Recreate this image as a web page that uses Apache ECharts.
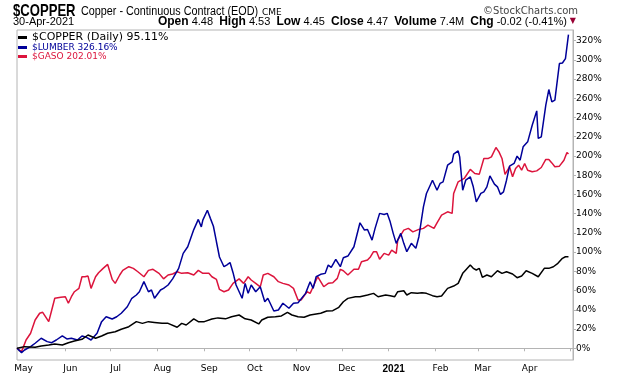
<!DOCTYPE html>
<html>
<head>
<meta charset="utf-8">
<script src="https://cdn.jsdelivr.net/npm/echarts@6/dist/echarts.min.js"></script>
<style>
  html, body { margin: 0; padding: 0; background: #fff; }
  #chart { width: 620px; height: 376px; }
</style>
</head>
<body>
<div id="chart"></div>
<script>
// day offsets from 30-Apr-2020, % change since start
const startDate = new Date(2020, 3, 30).getTime();
const DAY = 86400000;

const copper = [[0,0],[5,1.7],[12,1],[16,2.4],[21,3.4],[25,4.5],[30,3.4],[34,5.8],[38,7.6],[43,9.3],[47,13.8],[52,10.4],[56,12.8],[60,15.6],[65,17.2],[69,19.8],[74,22.4],[79,27.7],[83,25.9],[87,27.7],[91,26.9],[96,25.9],[100,25.9],[106,21.8],[109,25.9],[112,24.2],[117,30.6],[120,27.7],[124,27.7],[129,30.4],[133,31.6],[138,30.6],[142,32.8],[147,34.6],[151,30.6],[155,29.4],[160,25.3],[162,29.4],[166,32.2],[171,32.8],[175,33.6],[179,37.4],[182,34.6],[186,32.8],[190,32.2],[194,34.6],[201,36.4],[205,38.8],[209,39.1],[213,42.6],[216,48.4],[219,51.9],[224,53.6],[227,53.6],[232,55.4],[236,57.1],[239,53.6],[244,55.4],[247,54.7],[250,53.6],[252,58.8],[256,59.8],[258,55.4],[261,57.8],[265,57.1],[268,57.8],[271,57.1],[275,54.7],[278,53.6],[281,54.3],[285,62.3],[289,64.7],[292,67.5],[295,77.9],[297,81.4],[300,86.5],[302,83.1],[304,81.4],[306,83.1],[308,73.8],[311,76.2],[314,74.4],[318,80.6],[321,77.9],[324,79.6],[328,77.2],[331,73.4],[334,75.1],[337,80.6],[341,77.9],[345,74.4],[349,83.1],[352,83.1],[355,84.8],[358,88.3],[361,93.5],[363,95.2],[365,95.11]];

const lumber = [[0,0],[3,-4.5],[5,-1.8],[9,1.7],[12,5.2],[16,10.4],[20,6.9],[23,5.8],[26,8.6],[30,12.8],[33,9.7],[36,10.4],[40,8.6],[43,12.8],[46,11.4],[49,8.6],[53,15.6],[56,27.7],[59,32.8],[63,30.4],[66,32.8],[69,36.4],[73,43.2],[76,52],[79,55.4],[81,58.8],[84,69.3],[87,58.8],[89,60.6],[91,52],[95,60.6],[97,62.3],[100,65.8],[103,72.2],[107,83.1],[110,98.7],[113,105.6],[117,123.4],[120,134],[122,126.2],[123,133.3],[126,143.6],[128,135.1],[130,126.9],[132,110.8],[134,94.9],[137,84.8],[139,86.8],[141,89.2],[143,78.6],[145,65.8],[149,52],[151,67.5],[153,57.1],[155,65.8],[158,58.8],[161,63.9],[164,48.4],[166,52],[170,38.8],[173,39.8],[176,46.8],[180,41.6],[183,46.8],[186,47.4],[191,57.1],[194,69.2],[196,62.3],[198,74.4],[201,76.9],[204,77.9],[206,86.5],[208,84.2],[211,92.5],[214,84.8],[216,94.1],[219,95.9],[223,105.6],[227,130.5],[230,122.9],[232,123.6],[235,112.5],[237,124.7],[240,140.3],[243,139.2],[245,140.3],[247,131.5],[249,119.5],[251,109.1],[254,119.5],[256,109.1],[258,100.4],[261,109.1],[264,103.9],[266,116],[269,147.1],[271,161],[275,174.8],[278,164.4],[280,171.4],[282,173.1],[285,190.4],[288,193.9],[289,201.9],[292,205.3],[293,199.1],[295,164.4],[297,174.8],[300,178.3],[302,167.9],[304,152.3],[307,161],[309,162.7],[311,167.9],[313,179.3],[316,170.7],[318,167.9],[320,160],[322,162.7],[324,174.8],[326,189.4],[329,192.2],[331,199.8],[333,195.6],[335,209.5],[338,214.7],[341,232],[344,246.9],[345,218.2],[347,219.9],[350,252.8],[352,269.1],[354,256.2],[356,258],[359,296.1],[361,296.7],[363,301.3],[365,326.16]];

const gaso = [[0,0],[3,-3.5],[6,8.6],[9,15.6],[12,29.4],[13,27.7],[15,36.4],[17,37.4],[21,27.7],[23,39.8],[25,52],[29,53],[32,53.6],[34,46.8],[36,53.6],[38,58.8],[41,62.3],[43,74.4],[45,74.4],[47,75.1],[49,62.3],[52,74.4],[54,78.6],[57,83.1],[60,87.2],[63,71.7],[65,67.5],[68,76.2],[70,81],[74,84.8],[77,83.1],[80,79.6],[84,74.4],[87,81],[90,82.1],[94,77.9],[97,72.2],[100,76.2],[103,77.2],[106,79.6],[109,77.9],[113,78.6],[117,76.2],[120,81],[123,77.9],[127,77.9],[129,74.4],[132,71.6],[134,61.2],[137,58.8],[140,60.6],[143,67.5],[147,72.2],[150,67.5],[153,74.4],[155,71],[158,67.5],[161,63.9],[163,76.2],[166,77.9],[170,74.4],[173,69.3],[176,67.5],[180,65.8],[183,62.3],[186,50.2],[188,50.2],[192,58.8],[194,57.1],[196,64],[199,74.4],[201,69.2],[203,64],[206,67.5],[209,68.2],[212,72.7],[214,82.1],[216,80.6],[219,76.2],[223,82.1],[226,82.1],[228,90],[232,91.7],[234,95.2],[236,100.4],[238,100.4],[240,92.5],[243,98.7],[246,96.9],[248,102.1],[251,98.7],[252,112.5],[256,122.9],[259,124.7],[262,121.1],[266,123.6],[269,124.7],[272,128.1],[276,124.7],[278,130.5],[281,138.4],[285,141.9],[288,140.3],[289,161],[292,173.1],[296,176.6],[300,186],[303,181.8],[306,181.1],[309,197.4],[312,197.4],[314,199.1],[317,208.8],[319,204.3],[321,197.4],[323,180.8],[324,181.8],[326,188.7],[328,178.3],[330,187],[332,190.4],[334,185.2],[336,192.2],[338,185.2],[341,183.5],[344,184.5],[347,188],[350,196.4],[352,196.4],[354,192.8],[356,188.7],[359,189.4],[362,195.6],[364,203.6],[365,202.01]];

const yTicks = [0, 20, 40, 60, 80, 100, 120, 140, 160, 180, 200, 220, 240, 260, 280, 300, 320];
const monthNames = ['Jan','Feb','Mar','Apr','May','Jun','Jul','Aug','Sep','Oct','Nov','Dec'];

const names = ['$COPPER (Daily)', '$LUMBER', '$GASO'];
const colors = ['#000000', '#000099', '#dc143c'];
const lastVal = {};
[copper, lumber, gaso].forEach((s, i) => { lastVal[names[i]] = s[s.length - 1][1]; });

const toSeries = s => s.map(p => [startDate + p[0] * DAY, p[1]]);

const endDate = startDate + 368 * DAY;
const axisGray = '#b4b4b4';
const axisFont = 'DejaVu Sans';

let myChart = echarts.init(document.getElementById('chart'));
myChart.setOption({
  animation: false,
  grid: {
    left: 17, right: 47, top: 30, bottom: 16,
    show: true, borderColor: axisGray, borderWidth: 1
  },
  legend: {
    orient: 'vertical',
    left: 18, top: 32,
    padding: 0,
    itemGap: 0,
    itemWidth: 9, itemHeight: 3,
    icon: 'rect',
    selectedMode: false,
    formatter: name => name + ' ' + lastVal[name].toFixed(2) + '%',
    data: [
      { name: names[0], textStyle: { color: colors[0], fontSize: 11, lineHeight: 11, fontFamily: axisFont } },
      { name: names[1], textStyle: { color: colors[1], fontSize: 9, lineHeight: 9, fontFamily: axisFont } },
      { name: names[2], textStyle: { color: colors[2], fontSize: 9, lineHeight: 9, fontFamily: axisFont } }
    ]
  },
  xAxis: {
    type: 'time',
    min: startDate,
    max: endDate,
    minInterval: 28 * DAY,
    maxInterval: 31 * DAY,
    axisLine: { lineStyle: { color: axisGray } },
    axisTick: { show: true, length: 3, lineStyle: { color: axisGray } },
    splitLine: { show: false },
    axisLabel: {
      fontFamily: axisFont, fontSize: 9, color: '#000', margin: 4,
      padding: [0, 0, 0, 10],
      formatter: v => {
        if (v > startDate + 360 * DAY) return '';
        const d = new Date(v);
        if (d.getMonth() === 0) return '{y|' + d.getFullYear() + '}';
        return monthNames[d.getMonth()];
      },
      rich: { y: { fontWeight: 'bold', fontSize: 10, fontFamily: 'Liberation Sans' } }
    }
  },
  yAxis: {
    type: 'value',
    position: 'right',
    min: -12.2,
    max: 331,
    axisLine: { show: true, lineStyle: { color: axisGray } },
    axisTick: { show: true, length: 3, customValues: yTicks, lineStyle: { color: axisGray } },
    splitLine: { show: false },
    axisLabel: {
      customValues: yTicks,
      formatter: '{value}%',
      fontFamily: axisFont, fontSize: 9, color: '#000', margin: 3
    }
  },
  series: [
    { name: names[0], type: 'line', data: toSeries(copper), showSymbol: false, color: colors[0], lineStyle: { width: 1.5 }, z: 4 },
    { name: names[1], type: 'line', data: toSeries(lumber), showSymbol: false, color: colors[1], lineStyle: { width: 1.5 }, z: 3 },
    { name: names[2], type: 'line', data: toSeries(gaso), showSymbol: false, color: colors[2], lineStyle: { width: 1.5 }, z: 2 }
  ],
  graphic: [
    { type: 'text', x: 13, y: 3, scaleX: 0.77, style: { text: '$COPPER', font: "bold 17px 'Liberation Sans'", fill: '#000' } },
    { type: 'text', x: 81, y: 6, scaleX: 0.9, style: { text: 'Copper - Continuous Contract (EOD)', font: "12px 'Liberation Sans'", fill: '#000' } },
    { type: 'text', x: 262, y: 8, style: { text: 'CME', font: "9px 'DejaVu Sans'", fill: '#000' } },
    { type: 'text', right: 42, top: 6, style: { text: '©StockCharts.com', font: "10px 'DejaVu Sans'", fill: '#444' } },
    { type: 'text', left: 13, top: 16, style: { text: '30-Apr-2021', font: "11px 'Liberation Sans'", fill: '#000' } },
    {
      type: 'text', right: 53, top: 16,
      style: {
        text: '{b|Open} 4.48  {b|High} 4.53  {b|Low} 4.45  {b|Close} 4.47  {b|Volume} 7.4M  {b|Chg} -0.02 (-0.41%)',
        font: "11px 'Liberation Sans'", fill: '#000',
        rich: { b: { fontWeight: 'bold', fontSize: 12, fontFamily: 'Liberation Sans' } }
      }
    },
    { type: 'text', right: 44, top: 17, style: { text: '▼', font: "8px 'DejaVu Sans'", fill: '#990033' } }
  ]
});
window.onresize = myChart.resize;
</script>
</body>
</html>
